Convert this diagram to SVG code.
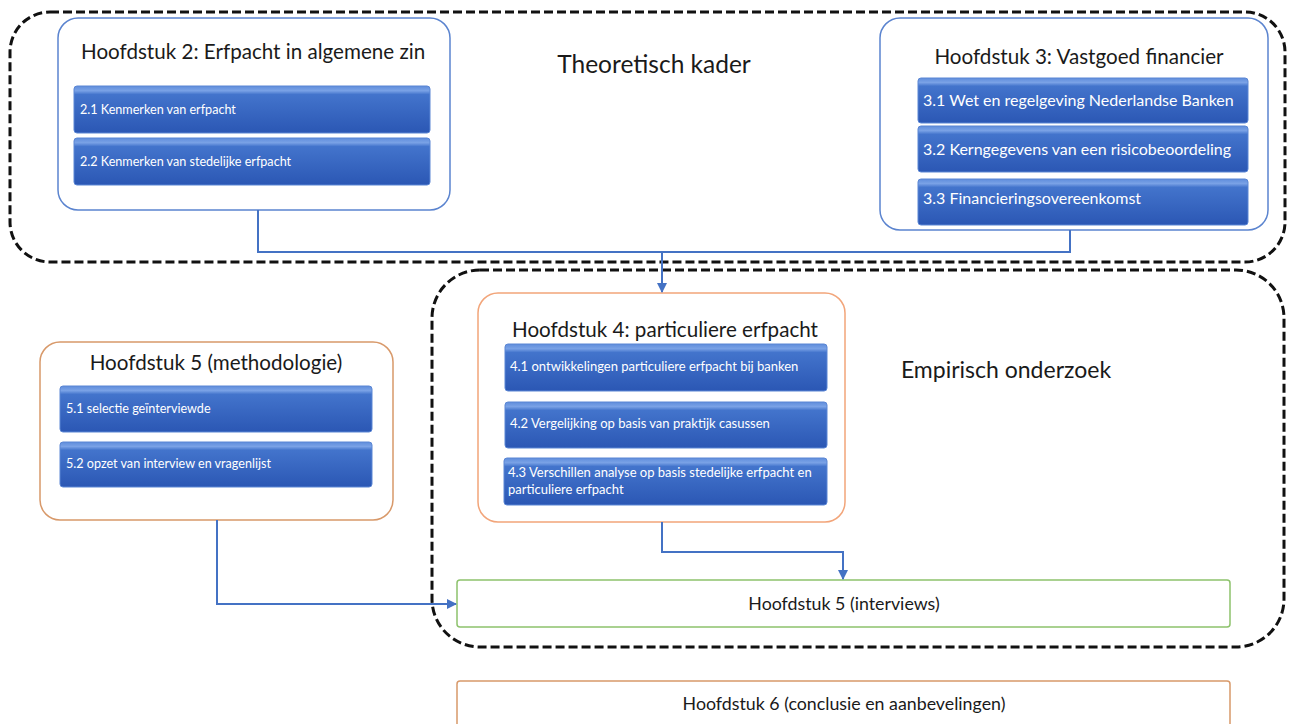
<svg xmlns="http://www.w3.org/2000/svg" width="1294" height="724" viewBox="0 0 1294 724">
<style>
.dash{fill:none;stroke:#111;stroke-width:3;stroke-dasharray:9 4}
.bluebox{fill:#fff;stroke:#5b84cf;stroke-width:1.5}
.orbox{fill:#fff;stroke:#f2a57a;stroke-width:1.5}
.orbox2{fill:#fff;stroke:#d8996a;stroke-width:1.5}
.grbox{fill:#fff;stroke:#8dc26c;stroke-width:1.5}
.bar{fill:url(#barg);stroke:#5a86d4;stroke-width:1}
.title{font-family:Lato,"Liberation Sans",sans-serif;font-size:20.6px;fill:#1a1a1a}
.mid{font-family:Lato,"Liberation Sans",sans-serif;font-size:17.8px;fill:#1a1a1a}
.bt{font-family:Lato,"Liberation Sans",sans-serif;font-size:12.6px;fill:#fff}
.bt4{font-family:Lato,"Liberation Sans",sans-serif;font-size:13px;fill:#fff}
.bt3{font-family:Lato,"Liberation Sans",sans-serif;font-size:16px;fill:#fff}
.conn{fill:none;stroke:#4472c4;stroke-width:2}
</style>
<defs>
<linearGradient id="barg" x1="0" y1="0" x2="0" y2="1">
<stop offset="0" stop-color="#5f8ddc"/>
<stop offset="0.1" stop-color="#7aa2e6"/>
<stop offset="0.18" stop-color="#4374cc"/>
<stop offset="1" stop-color="#2b57b4"/>
</linearGradient>
<marker id="arr" viewBox="0 0 10 10" refX="9" refY="5" markerWidth="5" markerHeight="5" orient="auto" markerUnits="strokeWidth">
<path d="M0,0 L10,5 L0,10 z" fill="#4472c4"/>
</marker>
</defs>
<rect x="0" y="0" width="1294" height="724" fill="#fff"/>
<g id="frames">
<rect class="dash" x="10" y="12" width="1275" height="250" rx="40" ry="40"/>
<rect class="dash" x="432" y="270" width="852" height="377" rx="48" ry="48"/>
<text font-family="Lato, 'Liberation Sans', sans-serif" font-size="24.5" fill="#1a1a1a" x="654" y="73" text-anchor="middle">Theoretisch kader</text>
<text font-family="Lato, 'Liberation Sans', sans-serif" font-size="23" fill="#1a1a1a" x="1006" y="378" text-anchor="middle">Empirisch onderzoek</text>
</g>
<g id="node-h2">
<rect class="bluebox" x="58" y="18" width="392" height="192" rx="20"/>
<text class="title" x="81" y="59">Hoofdstuk 2: Erfpacht in algemene zin</text>
<rect class="bar" x="74" y="86" width="356" height="47" rx="3"/>
<text class="bt" x="80" y="114">2.1 Kenmerken van erfpacht</text>
<rect class="bar" x="74" y="138" width="356" height="47" rx="3"/>
<text class="bt" x="80" y="166">2.2 Kenmerken van stedelijke erfpacht</text>
</g>
<g id="node-h3">
<rect class="bluebox" x="880" y="18" width="388" height="212" rx="20"/>
<text class="title" x="1079" y="64" text-anchor="middle">Hoofdstuk 3: Vastgoed financier</text>
<rect class="bar" x="918" y="78" width="330" height="45" rx="3"/>
<text class="bt3" x="923" y="106">3.1 Wet en regelgeving Nederlandse Banken</text>
<rect class="bar" x="918" y="126" width="330" height="46" rx="3"/>
<text class="bt3" x="923" y="155">3.2 Kerngegevens van een risicobeoordeling</text>
<rect class="bar" x="918" y="179" width="330" height="46" rx="3"/>
<text class="bt3" x="923" y="204">3.3 Financieringsovereenkomst</text>
</g>
<g id="node-h4">
<rect class="orbox" x="478" y="293" width="367" height="229" rx="20"/>
<text class="title" x="665" y="337" text-anchor="middle">Hoofdstuk 4: particuliere erfpacht</text>
<rect class="bar" x="505" y="344" width="322" height="47" rx="3"/>
<text class="bt4" x="510" y="371">4.1 ontwikkelingen particuliere erfpacht bij banken</text>
<rect class="bar" x="505" y="402" width="322" height="46" rx="3"/>
<text class="bt4" x="510" y="428">4.2 Vergelijking op basis van praktijk casussen</text>
<rect class="bar" x="504" y="458" width="323" height="47" rx="3"/>
<text class="bt4" x="508" y="477">4.3 Verschillen analyse op basis stedelijke erfpacht en</text>
<text class="bt4" x="508" y="494">particuliere erfpacht</text>
</g>
<g id="node-h5m">
<rect class="orbox2" x="40" y="342" width="353" height="178" rx="20"/>
<text class="title" x="216" y="370" text-anchor="middle">Hoofdstuk 5 (methodologie)</text>
<rect class="bar" x="60" y="386" width="312" height="46" rx="3"/>
<text class="bt" x="66" y="413">5.1 selectie geïnterviewde</text>
<rect class="bar" x="60" y="442" width="312" height="45" rx="3"/>
<text class="bt" x="66" y="468">5.2 opzet van interview en vragenlijst</text>
</g>
<g id="node-h5i">
<rect class="grbox" x="457" y="580" width="773" height="47" rx="3"/>
<text class="mid" x="844" y="610" text-anchor="middle">Hoofdstuk 5 (interviews)</text>
</g>
<g id="node-h6">
<rect class="orbox2" x="457" y="681" width="773" height="50" rx="3"/>
<text class="mid" x="844" y="710" text-anchor="middle">Hoofdstuk 6 (conclusie en aanbevelingen)</text>
</g>
<g id="connectors">
<polyline class="conn" points="258,210 258,252 1070,252 1070,230"/>
<polyline class="conn" points="662,252 662,292" marker-end="url(#arr)"/>
<polyline class="conn" points="662,522 662,552 843,552 843,579" marker-end="url(#arr)"/>
<polyline class="conn" points="217,520 217,604 456,604" marker-end="url(#arr)"/>
</g>
</svg>
